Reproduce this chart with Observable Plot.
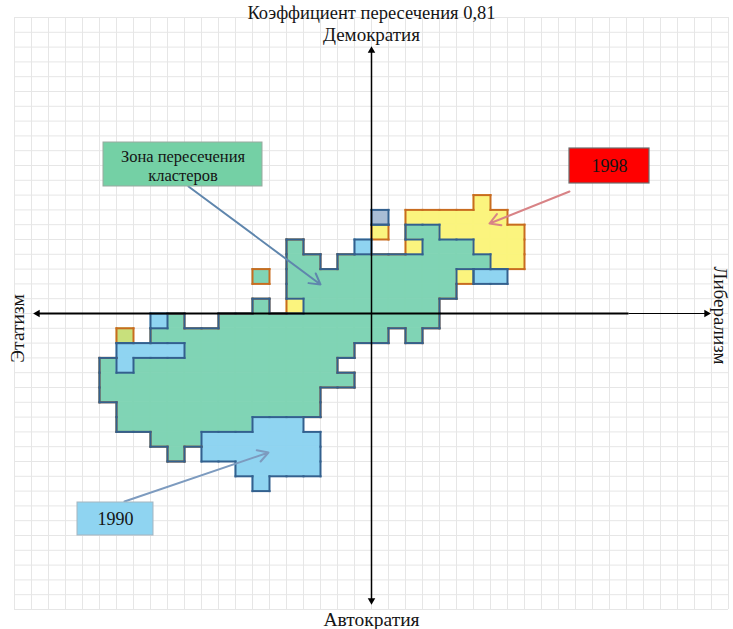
<!DOCTYPE html>
<html><head><meta charset="utf-8">
<script src="https://cdn.jsdelivr.net/npm/d3@7"></script>
<script src="https://cdn.jsdelivr.net/npm/@observablehq/plot@0.6"></script>
<style>html,body{margin:0;padding:0;background:#fff;} #chart svg{display:block;}</style>
</head><body><div id="chart"></div>
<script>
// ---------- DATA ----------
const title = "Коэффициент пересечения 0,81";
const labelTop = "Демократия";
const labelBottom = "Автократия";
const labelLeft = "Этатизм";
const labelRight = "Либерализм";
const zoneLabel = ["Зона пересечения", "кластеров"];
const yearLabels = ["1990", "1998"];

// grid cells as runs: [row, fromCol, toCol]
// intersection zone (cell belongs to both 1990 and 1998 clusters)
const bothRuns = [
  [5, 2, 3],
  [4, -5, -5], [4, 3, 5],
  [3, -5, -4], [3, -2, 6],
  [2, -5, 4],
  [1, -5, 4],
  [0, -7, -7], [0, -4, 3],
  [-1, -12, -12], [-1, -9, 3],
  [-2, -13, 0], [-2, 2, 2],
  [-3, -11, -2],
  [-4, -16, -16], [-4, -14, -3],
  [-5, -16, -2],
  [-6, -16, -4],
  [-7, -15, -4],
  [-8, -15, -8],
  [-9, -13, -11],
  [-10, -12, -12]
];
// 1990 cluster only
const only1990Runs = [
  [4, -1, -1],
  [2, 6, 7],
  [-1, -13, -13],
  [-3, -15, -12],
  [-4, -15, -15],
  [-8, -7, -5],
  [-9, -10, -4],
  [-10, -10, -4],
  [-11, -8, -4],
  [-12, -7, -7]
];
// 1998 cluster only
const only1998Runs = [
  [7, 6, 6],
  [6, 2, 7],
  [5, 0, 0], [5, 4, 8],
  [4, 2, 2], [4, 6, 8],
  [3, 7, 8],
  [2, 5, 5],
  [0, -5, -5]
];
// odd single cells: [row, col, kind]
const oddCells = [
  [6, 0, "1990grey"],
  [2, -7, "1998green"],
  [-2, -15, "1998lime"]
];

// ---------- STYLE ----------
const fills = {
  both: "#80d4b5", "1990": "#8fd4f1", "1998": "#fbf47e",
  "1990grey": "#a8bdd5", "1998green": "#80d4b5", "1998lime": "#c8e07c"
};
const blueLine = "#33608e", orangeLine = "#c86c20";
const CW = 17, RH = 14.8, OX = 371, OY = 313, W = 733, H = 629;
const px = v => (v - OX) / CW;   // layout helper: pixel -> grid units
const py = v => (OY - v) / RH;

// ---------- BUILD ----------
const expand = (runs, cat) => runs.flatMap(([r, a, b]) => d3.range(a, b + 1).map(c => ({col: c, row: r, cat})));
const cells = [
  ...expand(bothRuns, "both"),
  ...expand(only1990Runs, "1990"),
  ...expand(only1998Runs, "1998"),
  ...oddCells.map(([r, c, k]) => ({col: c, row: r, cat: k}))
];
const setA = new Set(cells.filter(d => d.cat === "both" || d.cat.startsWith("1990")).map(d => d.col + "," + d.row));
const setB = new Set(cells.filter(d => d.cat === "both" || d.cat.startsWith("1998")).map(d => d.col + "," + d.row));
function edges(set, other) {
  const out = [];
  for (const k of set) {
    const [c, r] = k.split(",").map(Number);
    const nb = [
      [c - 1, r, {x1: c, y1: r, x2: c, y2: r + 1}],
      [c + 1, r, {x1: c + 1, y1: r, x2: c + 1, y2: r + 1}],
      [c, r - 1, {x1: c, y1: r, x2: c + 1, y2: r}],
      [c, r + 1, {x1: c, y1: r + 1, x2: c + 1, y2: r + 1}]
    ];
    for (const [nc, nr, e] of nb) {
      const key = nc + "," + nr;
      if (!set.has(key)) out.push({...e, inOther: other ? other.has(key) : false});
    }
  }
  return out;
}
const edgesA = edges(setA), edgesB = edges(setB, setA);

const gridCols = d3.range(-21, 22);
const gridRows = d3.range(-20, 21);

const serif = "Liberation Serif, Times New Roman, serif";
const ink = "#151515";

const chart = Plot.plot({
  width: W, height: H,
  marginTop: 0, marginBottom: 0, marginLeft: 0, marginRight: 0,
  x: {domain: [-OX / CW, (W - OX) / CW], axis: null},
  y: {domain: [(OY - H) / RH, OY / RH], axis: null},
  color: {type: "identity"},
  style: {fontFamily: serif, background: "#fff"},
  marks: [
    // background grid
    Plot.ruleX(gridCols, {x: d => d, y1: -20, y2: 20, stroke: "#e6e6e6", strokeWidth: 1}),
    Plot.ruleY(gridRows, {y: d => d, x1: -21, x2: 21, stroke: "#e6e6e6", strokeWidth: 1}),
    // cluster cells
    Plot.rect(cells, {x1: d => d.col, x2: d => d.col + 1, y1: d => d.row, y2: d => d.row + 1,
      fill: d => fills[d.cat], stroke: d => fills[d.cat], strokeWidth: 0.8}),
    // outlines
    Plot.link(edgesB, {x1: "x1", y1: "y1", x2: "x2", y2: "y2", stroke: d => d.inOther ? blueLine : orangeLine, strokeWidth: 2, strokeLinecap: "square"}),
    Plot.link(edgesA, {x1: "x1", y1: "y1", x2: "x2", y2: "y2", stroke: blueLine, strokeWidth: 2, strokeLinecap: "square"}),
    // axes
    Plot.link([0], {x1: 0, x2: 0, y1: py(50), y2: py(600), stroke: "#000", strokeWidth: 1.5}),
    Plot.link([0], {x1: px(36), x2: px(628), y1: 0, y2: 0, stroke: "#000", strokeWidth: 1.8}),
    Plot.link([0], {x1: px(628), x2: px(707), y1: 0, y2: 0, stroke: "#000", strokeWidth: 1}),
    Plot.dot([[0, py(50), 0], [0, py(600), 180], [px(37), 0, -90], [px(706), 0, 90]],
      {x: d => d[0], y: d => d[1], rotate: d => d[2], symbol: "triangle2", r: 3.6, fill: "#000"}),
    // annotation arrows
    Plot.arrow([0], {x1: px(188), y1: py(186), x2: px(320), y2: py(284), stroke: "#5f86ad", strokeWidth: 2, headLength: 9}),
    Plot.arrow([0], {x1: px(569), y1: py(191), x2: px(489), y2: py(223), stroke: "#d88386", strokeWidth: 2, headLength: 9}),
    Plot.arrow([0], {x1: px(124), y1: py(501), x2: px(268), y2: py(452), stroke: "#7d9bbf", strokeWidth: 2, headLength: 9}),
    // annotation boxes
    Plot.rect([0], {x1: px(103), x2: px(262), y1: py(142), y2: py(186), fill: "#74d0a5", stroke: "#9aa9a0", strokeWidth: 1}),
    Plot.rect([0], {x1: px(569), x2: px(649), y1: py(148), y2: py(183), fill: "#ff0000", stroke: "#6d6d6d", strokeWidth: 1.2}),
    Plot.rect([0], {x1: px(77), x2: px(153), y1: py(502), y2: py(535), fill: "#8fd4f1", stroke: "#a5b5c0", strokeWidth: 1}),
    // texts
    Plot.text([title], {x: 0, y: py(13), text: d => d, fontSize: 18.5, fill: ink}),
    Plot.text([labelTop], {x: 0, y: py(34), text: d => d, fontSize: 19, fill: ink}),
    Plot.text([labelBottom], {x: 0, y: py(619), text: d => d, fontSize: 19.5, fill: ink}),
    Plot.text([labelLeft], {x: px(17), y: py(328), text: d => d, fontSize: 19.5, rotate: -90, fill: ink}),
    Plot.text([labelRight], {x: px(720), y: py(315), text: d => d, fontSize: 19, rotate: 90, fill: ink}),
    Plot.text([zoneLabel[0]], {x: px(182.5), y: py(156), text: d => d, fontSize: 16.5, fill: ink}),
    Plot.text([zoneLabel[1]], {x: px(182.5), y: py(175), text: d => d, fontSize: 16.5, fill: ink}),
    Plot.text([yearLabels[1]], {x: px(609), y: py(166), text: d => d, fontSize: 18, fill: ink}),
    Plot.text([yearLabels[0]], {x: px(115), y: py(519), text: d => d, fontSize: 18, fill: ink})
  ]
});
document.getElementById("chart").append(chart);
</script>
</body></html>
